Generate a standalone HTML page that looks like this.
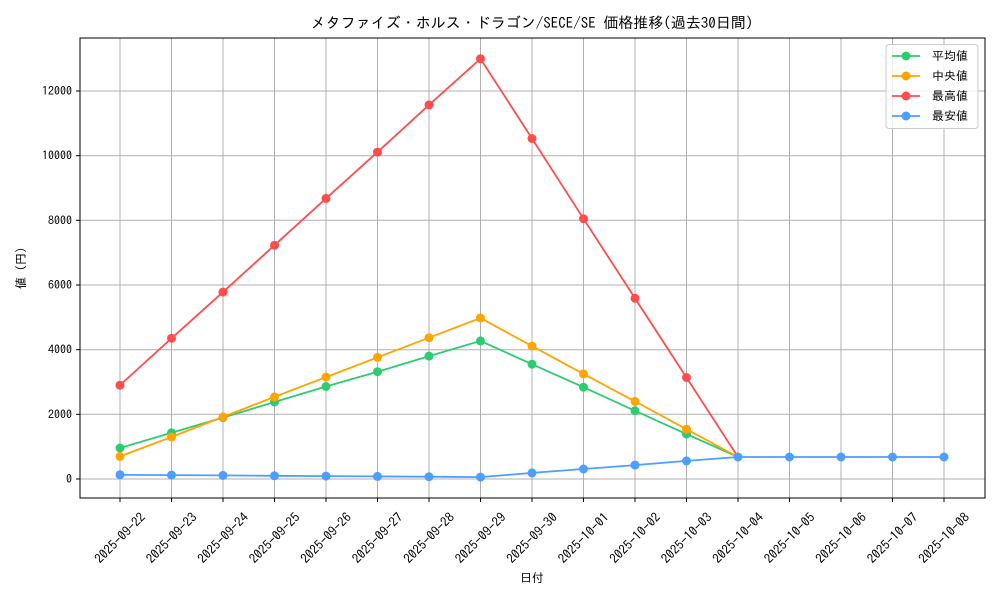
<!DOCTYPE html><html><head><meta charset="utf-8"><style>body{margin:0;background:#fff}svg{display:block}text{font-family:"IPAGothic","Noto Sans CJK JP",sans-serif;fill:#000}</style></head><body>
<svg width="1000" height="600" viewBox="0 0 1000 600">
<g stroke="#b0b0b0" stroke-width="1">
<line x1="120" y1="38" x2="120" y2="498"/><line x1="171.5" y1="38" x2="171.5" y2="498"/><line x1="223" y1="38" x2="223" y2="498"/><line x1="274.5" y1="38" x2="274.5" y2="498"/><line x1="326" y1="38" x2="326" y2="498"/><line x1="377.5" y1="38" x2="377.5" y2="498"/><line x1="429" y1="38" x2="429" y2="498"/><line x1="480.5" y1="38" x2="480.5" y2="498"/><line x1="532" y1="38" x2="532" y2="498"/><line x1="583.5" y1="38" x2="583.5" y2="498"/><line x1="635" y1="38" x2="635" y2="498"/><line x1="686.5" y1="38" x2="686.5" y2="498"/><line x1="738" y1="38" x2="738" y2="498"/><line x1="789.5" y1="38" x2="789.5" y2="498"/><line x1="841" y1="38" x2="841" y2="498"/><line x1="892.5" y1="38" x2="892.5" y2="498"/><line x1="944" y1="38" x2="944" y2="498"/>
<line x1="80" y1="479" x2="985" y2="479"/><line x1="80" y1="414.3" x2="985" y2="414.3"/><line x1="80" y1="349.7" x2="985" y2="349.7"/><line x1="80" y1="285" x2="985" y2="285"/><line x1="80" y1="220.3" x2="985" y2="220.3"/><line x1="80" y1="155.7" x2="985" y2="155.7"/><line x1="80" y1="91" x2="985" y2="91"/>
</g>
<rect x="80" y="38" width="905" height="460" fill="none" stroke="#000" stroke-width="1"/>
<g stroke="#000"><line x1="76" y1="479" x2="80" y2="479"/><line x1="76" y1="414.3" x2="80" y2="414.3"/><line x1="76" y1="349.7" x2="80" y2="349.7"/><line x1="76" y1="285" x2="80" y2="285"/><line x1="76" y1="220.3" x2="80" y2="220.3"/><line x1="76" y1="155.7" x2="80" y2="155.7"/><line x1="76" y1="91" x2="80" y2="91"/>
<line x1="120" y1="498" x2="120" y2="502"/><line x1="171.5" y1="498" x2="171.5" y2="502"/><line x1="223" y1="498" x2="223" y2="502"/><line x1="274.5" y1="498" x2="274.5" y2="502"/><line x1="326" y1="498" x2="326" y2="502"/><line x1="377.5" y1="498" x2="377.5" y2="502"/><line x1="429" y1="498" x2="429" y2="502"/><line x1="480.5" y1="498" x2="480.5" y2="502"/><line x1="532" y1="498" x2="532" y2="502"/><line x1="583.5" y1="498" x2="583.5" y2="502"/><line x1="635" y1="498" x2="635" y2="502"/><line x1="686.5" y1="498" x2="686.5" y2="502"/><line x1="738" y1="498" x2="738" y2="502"/><line x1="789.5" y1="498" x2="789.5" y2="502"/><line x1="841" y1="498" x2="841" y2="502"/><line x1="892.5" y1="498" x2="892.5" y2="502"/><line x1="944" y1="498" x2="944" y2="502"/></g>
<g font-size="12" text-anchor="end"><text x="72" y="483">0</text><text x="72" y="418.3">2000</text><text x="72" y="353.7">4000</text><text x="72" y="289">6000</text><text x="72" y="224.3">8000</text><text x="72" y="159.7">10000</text><text x="72" y="95">12000</text></g>
<g font-size="13" text-anchor="middle" dominant-baseline="central">
<text transform="translate(120,538) rotate(-45)">2025-09-22</text><text transform="translate(171.5,538) rotate(-45)">2025-09-23</text><text transform="translate(223,538) rotate(-45)">2025-09-24</text><text transform="translate(274.5,538) rotate(-45)">2025-09-25</text><text transform="translate(326,538) rotate(-45)">2025-09-26</text><text transform="translate(377.5,538) rotate(-45)">2025-09-27</text><text transform="translate(429,538) rotate(-45)">2025-09-28</text><text transform="translate(480.5,538) rotate(-45)">2025-09-29</text><text transform="translate(532,538) rotate(-45)">2025-09-30</text><text transform="translate(583.5,538) rotate(-45)">2025-10-01</text><text transform="translate(635,538) rotate(-45)">2025-10-02</text><text transform="translate(686.5,538) rotate(-45)">2025-10-03</text><text transform="translate(738,538) rotate(-45)">2025-10-04</text><text transform="translate(789.5,538) rotate(-45)">2025-10-05</text><text transform="translate(841,538) rotate(-45)">2025-10-06</text><text transform="translate(892.5,538) rotate(-45)">2025-10-07</text><text transform="translate(944,538) rotate(-45)">2025-10-08</text>
</g>
<text x="532" y="582" font-size="12" text-anchor="middle">日付</text>
<text transform="translate(25,268) rotate(-90)" font-size="12" text-anchor="middle">値 (円)</text>
<text x="532" y="28" font-size="15" text-anchor="middle">メタファイズ・ホルス・ドラゴン/SECE/SE 価格推移(過去30日間)</text>
<g fill="none" stroke-width="1.8">
<polyline stroke="#2ecc71" points="120,448 171.5,432.8 223,417.6 274.5,402 326,386.5 377.5,371.7 429,356.1 480.5,340.9 532,364.2 583.5,387.2 635,410.8 686.5,434.1 738,457"/>
<polyline stroke="#ffa500" points="120,456.4 171.5,437 223,416.9 274.5,396.9 326,377.1 377.5,357.4 429,337.7 480.5,318 532,346.1 583.5,373.9 635,401.4 686.5,429.2 738,457"/>
<polyline stroke="#ff4d4d" points="120,385.2 171.5,338.3 223,292.1 274.5,245.2 326,198.4 377.5,152.1 429,104.9 480.5,58.7 532,138.5 583.5,218.7 635,298.3 686.5,377.5 738,457"/>
<polyline stroke="#4d9fff" points="120,474.8 171.5,475.1 223,475.4 274.5,475.8 326,476.1 377.5,476.4 429,476.7 480.5,477.1 532,472.9 583.5,469 635,465.1 686.5,460.9 738,457 789.5,457 841,457 892.5,457 944,457"/>
</g>
<g fill="#2ecc71"><circle cx="120" cy="448" r="4.5"/><circle cx="171.5" cy="432.8" r="4.5"/><circle cx="223" cy="417.6" r="4.5"/><circle cx="274.5" cy="402" r="4.5"/><circle cx="326" cy="386.5" r="4.5"/><circle cx="377.5" cy="371.7" r="4.5"/><circle cx="429" cy="356.1" r="4.5"/><circle cx="480.5" cy="340.9" r="4.5"/><circle cx="532" cy="364.2" r="4.5"/><circle cx="583.5" cy="387.2" r="4.5"/><circle cx="635" cy="410.8" r="4.5"/><circle cx="686.5" cy="434.1" r="4.5"/></g>
<g fill="#ffa500"><circle cx="120" cy="456.4" r="4.5"/><circle cx="171.5" cy="437" r="4.5"/><circle cx="223" cy="416.9" r="4.5"/><circle cx="274.5" cy="396.9" r="4.5"/><circle cx="326" cy="377.1" r="4.5"/><circle cx="377.5" cy="357.4" r="4.5"/><circle cx="429" cy="337.7" r="4.5"/><circle cx="480.5" cy="318" r="4.5"/><circle cx="532" cy="346.1" r="4.5"/><circle cx="583.5" cy="373.9" r="4.5"/><circle cx="635" cy="401.4" r="4.5"/><circle cx="686.5" cy="429.2" r="4.5"/></g>
<g fill="#ff4d4d"><circle cx="120" cy="385.2" r="4.5"/><circle cx="171.5" cy="338.3" r="4.5"/><circle cx="223" cy="292.1" r="4.5"/><circle cx="274.5" cy="245.2" r="4.5"/><circle cx="326" cy="198.4" r="4.5"/><circle cx="377.5" cy="152.1" r="4.5"/><circle cx="429" cy="104.9" r="4.5"/><circle cx="480.5" cy="58.7" r="4.5"/><circle cx="532" cy="138.5" r="4.5"/><circle cx="583.5" cy="218.7" r="4.5"/><circle cx="635" cy="298.3" r="4.5"/><circle cx="686.5" cy="377.5" r="4.5"/></g>
<g fill="#4d9fff"><circle cx="120" cy="474.8" r="4.5"/><circle cx="171.5" cy="475.1" r="4.5"/><circle cx="223" cy="475.4" r="4.5"/><circle cx="274.5" cy="475.8" r="4.5"/><circle cx="326" cy="476.1" r="4.5"/><circle cx="377.5" cy="476.4" r="4.5"/><circle cx="429" cy="476.7" r="4.5"/><circle cx="480.5" cy="477.1" r="4.5"/><circle cx="532" cy="472.9" r="4.5"/><circle cx="583.5" cy="469" r="4.5"/><circle cx="635" cy="465.1" r="4.5"/><circle cx="686.5" cy="460.9" r="4.5"/><circle cx="738" cy="457" r="4.5"/><circle cx="789.5" cy="457" r="4.5"/><circle cx="841" cy="457" r="4.5"/><circle cx="892.5" cy="457" r="4.5"/><circle cx="944" cy="457" r="4.5"/></g>
<rect x="886" y="44.5" width="92" height="84" rx="3" fill="#fff" fill-opacity="0.8" stroke="#ccc"/>
<g stroke-width="1.8">
<line x1="892" y1="56" x2="920" y2="56" stroke="#2ecc71"/><circle cx="906" cy="56" r="4.5" fill="#2ecc71"/>
<line x1="892" y1="76" x2="920" y2="76" stroke="#ffa500"/><circle cx="906" cy="76" r="4.5" fill="#ffa500"/>
<line x1="892" y1="96" x2="920" y2="96" stroke="#ff4d4d"/><circle cx="906" cy="96" r="4.5" fill="#ff4d4d"/>
<line x1="892" y1="116" x2="920" y2="116" stroke="#4d9fff"/><circle cx="906" cy="116" r="4.5" fill="#4d9fff"/>
</g>
<g font-size="12"><text x="932" y="60">平均値</text><text x="932" y="80"> 中央値</text><text x="932" y="100">最高値</text><text x="932" y="120">最安値</text></g>
</svg></body></html>
